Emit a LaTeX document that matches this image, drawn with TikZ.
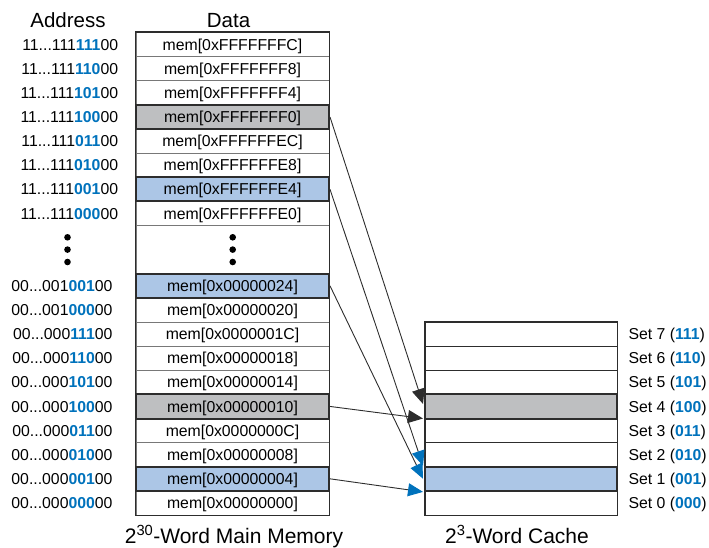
\documentclass[tikz,border=0pt]{standalone}
\usepackage{fontspec}
\setmainfont{Liberation Sans}
\usetikzlibrary{arrows.meta}
\definecolor{hlblue}{RGB}{0,114,188}
\definecolor{fillblue}{RGB}{172,198,230}
\definecolor{fillgray}{RGB}{190,191,193}
\definecolor{edge}{RGB}{45,45,45}
\definecolor{sepgray}{RGB}{120,120,120}
\newcommand{\bb}[1]{\textbf{\color{hlblue}#1}}
\tikzset{
  txt/.style={font=\fontsize{15.8}{18}\selectfont, inner sep=0pt, text height=11.3pt, text depth=0pt},
  memrow/.style={txt, draw=sepgray, line width=0.8pt, minimum width=193pt, minimum height=24.125pt},
  cacherow/.style={draw=edge, line width=0.8pt, minimum width=192pt, minimum height=24.125pt, inner sep=0pt},
  hlgray/.style={fill=fillgray, draw=edge, line width=2pt},
  hlblu/.style={fill=fillblue, draw=edge, line width=2pt},
  addr/.style={txt, anchor=east},
  setlbl/.style={txt, anchor=west},
  head/.style={font=\fontsize{20.5}{22}\selectfont, inner sep=0pt},
  caption/.style={font=\fontsize{21}{23}\selectfont, inner sep=0pt, anchor=base},
  conn/.style={draw=edge, line width=0.9pt},
  blk/.style={conn, -{Triangle[length=15pt, width=13pt]}},
  blu/.style={conn, -{Triangle[length=15pt, width=13pt, color=hlblue]}},
  dot/.style={circle, fill=black, inner sep=0pt, minimum size=6.6pt}
}
\begin{document}
\begin{tikzpicture}[x=1pt, y=-1pt]
\useasboundingbox (0,0) rectangle (709,548);

% headers
\node[head] (hA) at (68,20.5) {Address};
\node[head] (hD) at (228.5,20.5) {Data};

% memory rows (plain)
\node[memrow] (m0)  at (232.5,44.5625)  {mem[0xFFFFFFFC]};
\node[memrow] (m1)  at (232.5,68.6875)  {mem[0xFFFFFFF8]};
\node[memrow] (m2)  at (232.5,92.8125)  {mem[0xFFFFFFF4]};
\node[memrow] (m4)  at (232.5,141.0625) {mem[0xFFFFFFEC]};
\node[memrow] (m5)  at (232.5,165.1875) {mem[0xFFFFFFE8]};
\node[memrow] (m7)  at (232.5,213.4375) {mem[0xFFFFFFE0]};
\node[memrow, minimum height=48.25pt] (m8) at (232.5,249.625) {};
\node[memrow] (m11) at (232.5,309.9375) {mem[0x00000020]};
\node[memrow] (m12) at (232.5,334.0625) {mem[0x0000001C]};
\node[memrow] (m13) at (232.5,358.1875) {mem[0x00000018]};
\node[memrow] (m14) at (232.5,382.3125) {mem[0x00000014]};
\node[memrow] (m16) at (232.5,430.5625) {mem[0x0000000C]};
\node[memrow] (m17) at (232.5,454.6875) {mem[0x00000008]};
\node[memrow] (m19) at (232.5,502.9375) {mem[0x00000000]};
% highlighted rows
\node[memrow, hlgray] (m3)  at (232.5,116.9375) {mem[0xFFFFFFF0]};
\node[memrow, hlblu]  (m6)  at (232.5,189.3125) {mem[0xFFFFFFE4]};
\node[memrow, hlblu]  (m10) at (232.5,285.8125) {mem[0x00000024]};
\node[memrow, hlgray] (m15) at (232.5,406.4375) {mem[0x00000010]};
\node[memrow, hlblu]  (m18) at (232.5,478.8125) {mem[0x00000004]};
% outer border
\draw[edge, line width=1.5pt] (m0.north west) rectangle (m19.south east);

% dots
\node[dot] (d1) at (67.5,237.3) {};
\node[dot] (d2) at (67.5,249.6) {};
\node[dot] (d3) at (67.5,262) {};
\node[dot] (d4) at (232.7,237.3) {};
\node[dot] (d5) at (232.7,249.6) {};
\node[dot] (d6) at (232.7,262) {};

% addresses
\node[addr] (a0) at (118.3,44.5625)  {11...111\bb{111}00};
\node[addr] (a1) at (118.3,68.6875)  {11...111\bb{110}00};
\node[addr] (a2) at (118.3,92.8125)  {11...111\bb{101}00};
\node[addr] (a3) at (118.3,116.9375) {11...111\bb{100}00};
\node[addr] (a4) at (118.3,141.0625) {11...111\bb{011}00};
\node[addr] (a5) at (118.3,165.1875) {11...111\bb{010}00};
\node[addr] (a6) at (118.3,189.3125) {11...111\bb{001}00};
\node[addr] (a7) at (118.3,213.4375) {11...111\bb{000}00};
\node[addr] (a10) at (112.7,285.8125) {00...001\bb{001}00};
\node[addr] (a11) at (112.7,309.9375) {00...001\bb{000}00};
\node[addr] (a12) at (112.7,334.0625) {00...000\bb{111}00};
\node[addr] (a13) at (112.7,358.1875) {00...000\bb{110}00};
\node[addr] (a14) at (112.7,382.3125) {00...000\bb{101}00};
\node[addr] (a15) at (112.7,406.4375) {00...000\bb{100}00};
\node[addr] (a16) at (112.7,430.5625) {00...000\bb{011}00};
\node[addr] (a17) at (112.7,454.6875) {00...000\bb{010}00};
\node[addr] (a18) at (112.7,478.8125) {00...000\bb{001}00};
\node[addr] (a19) at (112.7,502.9375) {00...000\bb{000}00};

% cache
\node[cacherow] (c7) at (521,334.0625) {};
\node[cacherow] (c6) at (521,358.1875) {};
\node[cacherow] (c5) at (521,382.3125) {};
\node[cacherow] (c3) at (521,430.5625) {};
\node[cacherow] (c2) at (521,454.6875) {};
\node[cacherow] (c0) at (521,502.9375) {};
\node[cacherow, hlgray] (c4) at (521,406.4375) {};
\node[cacherow, hlblu]  (c1) at (521,478.8125) {};
\draw[edge, line width=1.5pt] (c7.north west) rectangle (c0.south east);

% set labels
\node[setlbl] (s7) at (628.3,334.0625) {Set 7 (\bb{111})};
\node[setlbl] (s6) at (628.3,358.1875) {Set 6 (\bb{110})};
\node[setlbl] (s5) at (628.3,382.3125) {Set 5 (\bb{101})};
\node[setlbl] (s4) at (628.3,406.4375) {Set 4 (\bb{100})};
\node[setlbl] (s3) at (628.3,430.5625) {Set 3 (\bb{011})};
\node[setlbl] (s2) at (628.3,454.6875) {Set 2 (\bb{010})};
\node[setlbl] (s1) at (628.3,478.8125) {Set 1 (\bb{001})};
\node[setlbl] (s0) at (628.3,502.9375) {Set 0 (\bb{000})};

% captions
\node[caption] (capM) at (234,543.2) {2\textsuperscript{30}-Word Main Memory};
\node[caption] (capC) at (517,543.2) {2\textsuperscript{3}-Word Cache};

% connectors
\draw[blk] (m3.east) -- ([xshift=-1pt,yshift=2.5pt]c4.west);
\draw[blk] (m15.east) -- ([xshift=-1pt,yshift=1pt]c4.south west);
\draw[blu] (m6.east) -- ([xshift=-1pt]c1.north west);
\draw[blu] (m10.east) -- ([xshift=-1pt,yshift=-13pt]c1.north west);
\draw[blu] (m18.east) -- ([xshift=-1pt]c1.south west);
\end{tikzpicture}
\end{document}
